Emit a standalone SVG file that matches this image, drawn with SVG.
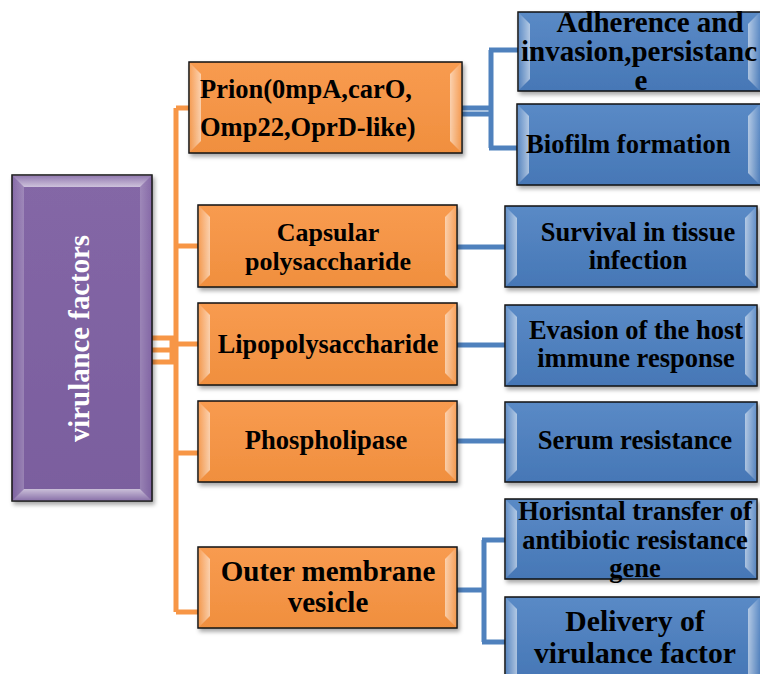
<svg xmlns="http://www.w3.org/2000/svg" width="760" height="674" viewBox="0 0 760 674">
<defs>
<linearGradient id="gO" x1="0" y1="0" x2="0" y2="1"><stop offset="0" stop-color="#f89b50"/><stop offset="1" stop-color="#f08f3e"/></linearGradient>
<linearGradient id="gB" x1="0" y1="0" x2="0" y2="1"><stop offset="0" stop-color="#5a8ac6"/><stop offset="1" stop-color="#4677b6"/></linearGradient>
<linearGradient id="gP" x1="0" y1="0" x2="0" y2="1"><stop offset="0" stop-color="#8467a6"/><stop offset="1" stop-color="#7a5e9e"/></linearGradient>
<linearGradient id="hl" x1="0" y1="0" x2="1" y2="0"><stop offset="0" stop-color="#fff" stop-opacity="0.05"/><stop offset="1" stop-color="#fff" stop-opacity="0.55"/></linearGradient>
<linearGradient id="hr" x1="1" y1="0" x2="0" y2="0"><stop offset="0" stop-color="#fff" stop-opacity="0.05"/><stop offset="1" stop-color="#fff" stop-opacity="0.55"/></linearGradient>
<linearGradient id="ht" x1="0" y1="0" x2="0" y2="1"><stop offset="0" stop-color="#fff" stop-opacity="0.1"/><stop offset="1" stop-color="#fff" stop-opacity="0.6"/></linearGradient>
<linearGradient id="hb" x1="0" y1="1" x2="0" y2="0"><stop offset="0" stop-color="#fff" stop-opacity="0.1"/><stop offset="1" stop-color="#fff" stop-opacity="0.6"/></linearGradient>
<filter id="sh" x="-10%" y="-10%" width="120%" height="130%"><feDropShadow dx="2" dy="3" stdDeviation="2" flood-color="#000" flood-opacity="0.35"/></filter>
</defs>
<style>
.o{fill:url(#gO);stroke:#111;stroke-width:1.5;filter:url(#sh)}
.b{fill:url(#gB);stroke:#111;stroke-width:1.5;filter:url(#sh)}
.p{fill:url(#gP);stroke:#111;stroke-width:1.5;filter:url(#sh)}
.bl{fill:url(#hl)}.br{fill:url(#hr)}.bt{fill:url(#ht)}.bb{fill:url(#hb)}
.t{font-family:'Liberation Serif',serif;font-weight:bold;fill:#000;text-anchor:middle}
.s{text-anchor:start}
.co{fill:none;stroke:#f79646;stroke-width:5}
.cb{fill:none;stroke:#4f81bd;stroke-width:5}
</style>

<g id="connectors">
<path class="co" d="M152,338H174M152,350H174M152,362H174"/>
<path class="co" d="M176,108V612M172,338V362"/>
<path class="co" d="M176,108H190M176,246H198M176,344H198M176,453H198M176,612H198"/>
<path class="cb" d="M462,108H490M462,114H490M491,50V148M489,50H518M489,148H517"/>
<path class="cb" d="M457,247H505M457,345H505M457,441H505"/>
<path class="cb" d="M457,590H485M484,540V642M482,540H505M482,642H505"/>
</g>

<g id="root">
<rect class="p" x="12" y="175" width="140" height="326"/>
<path class="bt" d="M12,175H152L140,187H24Z"/>
<path class="bb" d="M12,501H152L140,489H24Z"/>
<path class="bl" d="M12,175L24,187V489L12,501Z" opacity="0.4"/>
<path class="br" d="M152,175L140,187V489L152,501Z" opacity="0.4"/>
<text class="t" transform="translate(89,338.5) rotate(-90)" font-size="28.8" style="fill:#fff">virulance factors</text>
</g>

<g id="prion">
<rect class="o" x="189" y="62" width="273" height="91"/>
<path class="bl" d="M189,62L201,74V141L189,153Z"/>
<path class="br" d="M462,62L450,74V141L462,153Z"/>
<text class="t s" x="200" y="98" font-size="26.5">Prion(0mpA,carO,</text>
<text class="t s" x="200" y="136" font-size="26.5">Omp22,OprD-like)</text>
</g>

<g id="capsular">
<rect class="o" x="198" y="205" width="259" height="82"/>
<path class="bl" d="M198,205L210,217V275L198,287Z"/>
<path class="br" d="M457,205L445,217V275L457,287Z"/>
<text class="t" x="328" y="241" font-size="26">Capsular</text>
<text class="t" x="328" y="270" font-size="26">polysaccharide</text>
</g>

<g id="lipo">
<rect class="o" x="198" y="303" width="259" height="82"/>
<path class="bl" d="M198,303L210,315V373L198,385Z"/>
<path class="br" d="M457,303L445,315V373L457,385Z"/>
<text class="t" x="328" y="353" font-size="26.3">Lipopolysaccharide</text>
</g>

<g id="phospho">
<rect class="o" x="198" y="401" width="259" height="81"/>
<path class="bl" d="M198,401L210,413V470L198,482Z"/>
<path class="br" d="M457,401L445,413V470L457,482Z"/>
<text class="t" x="326" y="449" font-size="26.6">Phospholipase</text>
</g>

<g id="omv">
<rect class="o" x="198" y="547" width="259" height="81"/>
<path class="bl" d="M198,547L210,559V616L198,628Z"/>
<path class="br" d="M457,547L445,559V616L457,628Z"/>
<text class="t" x="328" y="581" font-size="29">Outer membrane</text>
<text class="t" x="328" y="612" font-size="29">vesicle</text>
</g>

<g id="adherence">
<rect class="b" x="518" y="12" width="260" height="79"/>
<path class="bl" d="M518,12L530,24V79L518,91Z"/>
<path class="br" d="M760,12L748,24V79L760,91Z"/>
<text class="t" x="650" y="32" font-size="29">Adherence and</text>
<text class="t s" x="521" y="61" font-size="29">invasion,persistanc</text>
<text class="t" x="641" y="90" font-size="29">e</text>
</g>

<g id="biofilm">
<rect class="b" x="517" y="104" width="260" height="81"/>
<path class="bl" d="M517,104L529,116V173L517,185Z"/>
<path class="br" d="M760,104L748,116V173L760,185Z"/>
<text class="t s" x="526" y="153" font-size="26.6">Biofilm formation</text>
</g>

<g id="survival">
<rect class="b" x="505" y="206" width="252" height="81"/>
<path class="bl" d="M505,206L517,218V275L505,287Z"/>
<path class="br" d="M757,206L745,218V275L757,287Z"/>
<text class="t" x="638" y="241" font-size="26.5">Survival in tissue</text>
<text class="t" x="638" y="269" font-size="26.5">infection</text>
</g>

<g id="evasion">
<rect class="b" x="505" y="305" width="252" height="81"/>
<path class="bl" d="M505,305L517,317V374L505,386Z"/>
<path class="br" d="M757,305L745,317V374L757,386Z"/>
<text class="t" x="636" y="339" font-size="26.5">Evasion of the host</text>
<text class="t" x="636" y="367" font-size="26.5">immune response</text>
</g>

<g id="serum">
<rect class="b" x="505" y="402" width="252" height="80"/>
<path class="bl" d="M505,402L517,414V470L505,482Z"/>
<path class="br" d="M757,402L745,414V470L757,482Z"/>
<text class="t" x="635" y="449" font-size="26.7">Serum resistance</text>
</g>

<g id="horizontal">
<rect class="b" x="505" y="499" width="252" height="80"/>
<path class="bl" d="M505,499L517,511V567L505,579Z"/>
<path class="br" d="M757,499L745,511V567L757,579Z"/>
<text class="t" x="635" y="520" font-size="26.5">Horisntal transfer of</text>
<text class="t" x="635" y="549" font-size="26.5">antibiotic resistance</text>
<text class="t" x="635" y="577" font-size="26.5">gene</text>
</g>

<g id="delivery">
<rect class="b" x="505" y="597" width="260" height="82"/>
<path class="bl" d="M505,597L517,609V679L505,679Z"/>
<path class="br" d="M760,597L748,609V679L760,679Z"/>
<text class="t" x="635" y="631" font-size="29.7">Delivery of</text>
<text class="t" x="635" y="663" font-size="29.7">virulance factor</text>
</g>
</svg>
